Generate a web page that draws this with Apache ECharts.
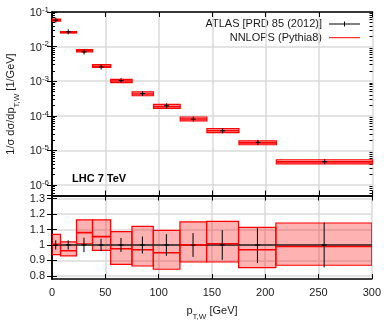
<!DOCTYPE html>
<html>
<head>
<meta charset="utf-8">
<script src="https://cdn.jsdelivr.net/npm/echarts@6/dist/echarts.min.js"></script>
<style>html,body{margin:0;padding:0;background:#fff;}#c{width:384px;height:321px;}</style>
</head>
<body>
<div id="c"></div>
<script>
// ---- data ----
const binEdges = [0, 8, 23, 38, 55, 75, 95, 120, 145, 175, 210, 300];
const atlasX = [3.5, 15.2, 30, 46, 64.7, 84.8, 107.3, 132.3, 159.7, 192.7, 255.3];
const atlasY = [0.0583, 0.0267, 0.0070, 0.00258, 0.001045, 4.40e-4, 1.95e-4, 8.07e-5, 3.69e-5, 1.71e-5, 4.72e-6];
const atlasRelErr = [0.03, 0.03, 0.047, 0.04, 0.045, 0.055, 0.07, 0.077, 0.096, 0.117, 0.145];
const nnlopsRatio = [1.005, 0.963, 1.08, 1.054, 0.976, 0.969, 0.95, 1.001, 1.008, 0.969, 0.99];
const nnlopsRatioUp = [1.069, 1.02, 1.163, 1.163, 1.087, 1.12, 1.095, 1.149, 1.153, 1.114, 1.142];
const nnlopsRatioDown = [0.937, 0.93, 1.008, 0.965, 0.875, 0.864, 0.843, 0.89, 0.89, 0.854, 0.869];
const xTicks = [0, 50, 100, 150, 200, 250, 300];
const ratioTicks = [0.8, 0.9, 1, 1.1, 1.2, 1.3];
const legendLabels = ['ATLAS [PRD 85 (2012)]', 'NNLOPS (Pythia8)'];

const FONT = 'Liberation Sans, Arial, Helvetica, sans-serif';
const TXT = '#1a1a1a';
const RED = '#ff0000';

const logMin = 5e-7, logMax = 0.1;
const minorLogTicks = [];
for (let d = -7; d <= -2; d++) for (let k = 2; k <= 9; k++) {
  const v = k * Math.pow(10, d);
  if (v > logMin && v < logMax) minorLogTicks.push(v);
}

// build series data
const bandTop = [], bandRatio = [], ptsTop = [], ptsRatio = [];
for (let i = 0; i < atlasY.length; i++) {
  const a = atlasY[i];
  bandTop.push([binEdges[i], binEdges[i + 1], a * nnlopsRatioDown[i], a * nnlopsRatioUp[i], a * nnlopsRatio[i]]);
  bandRatio.push([binEdges[i], binEdges[i + 1], nnlopsRatioDown[i], nnlopsRatioUp[i], nnlopsRatio[i]]);
  ptsTop.push([atlasX[i], a, a * (1 - atlasRelErr[i]), a * (1 + atlasRelErr[i])]);
  ptsRatio.push([atlasX[i], 1, 1 - atlasRelErr[i], 1 + atlasRelErr[i]]);
}
const unityLine = binEdges.map(e => [e, 1]);

function bandRender(params, api) {
  const x0 = api.value(0), x1 = api.value(1), lo = api.value(2), hi = api.value(3);
  const p0 = api.coord([x0, hi]), p1 = api.coord([x1, lo]);
  return {
    type: 'rect',
    shape: { x: p0[0], y: p0[1], width: p1[0] - p0[0], height: p1[1] - p0[1] },
    style: { fill: 'rgba(255,0,0,0.3)', stroke: RED, lineWidth: 1.2 }
  };
}
function centralRender(params, api) {
  const x0 = api.value(0), x1 = api.value(1), c = api.value(4);
  const p0 = api.coord([x0, c]), p1 = api.coord([x1, c]);
  return {
    type: 'line',
    shape: { x1: p0[0], y1: p0[1], x2: p1[0], y2: p1[1] },
    style: { stroke: RED, lineWidth: 1.6 }
  };
}
function errRender(params, api) {
  const x = api.value(0), y = api.value(1), lo = api.value(2), hi = api.value(3);
  const p = api.coord([x, y]), pl = api.coord([x, lo]), ph = api.coord([x, hi]);
  const s = 2.5;
  return {
    type: 'group',
    children: [
      { type: 'line', shape: { x1: p[0], y1: Math.min(ph[1], p[1] - s), x2: p[0], y2: Math.max(pl[1], p[1] + s) }, style: { stroke: '#000', lineWidth: 1 } },
      { type: 'line', shape: { x1: p[0] - s, y1: p[1], x2: p[0] + s, y2: p[1] }, style: { stroke: '#000', lineWidth: 1 } }
    ]
  };
}

const gridLine = { show: true, lineStyle: { color: '#dadada', width: 1.5 } };
const axLine = { show: true, lineStyle: { color: '#000', width: 1.5 } };

function supLabel(v) {
  const e = Math.round(Math.log10(v));
  if (Math.abs(Math.log10(v) - e) > 1e-6) return '';
  return '{b|10}{s|' + e + '}';
}

const option = {
  animation: false,
  backgroundColor: '#fff',
  textStyle: { fontFamily: FONT },
  grid: [
    { left: 52, right: 11.5, top: 12, height: 183.5 },
    { left: 52, right: 11.5, top: 195.5, height: 83.5 }
  ],
  xAxis: [
    { gridIndex: 0, type: 'value', min: 0, max: 300, position: 'bottom',
      axisLine: axLine, axisTick: { inside: true, length: 5, lineStyle: { color: '#000' }, customValues: xTicks },
      axisLabel: { show: false, customValues: xTicks }, splitLine: gridLine },
    { gridIndex: 0, type: 'value', min: 0, max: 300, position: 'top',
      axisLine: axLine, axisTick: { inside: true, length: 5, lineStyle: { color: '#000' }, customValues: xTicks },
      axisLabel: { show: false }, splitLine: { show: false } },
    { gridIndex: 1, type: 'value', min: 0, max: 300, position: 'bottom',
      axisLine: axLine, axisTick: { inside: true, length: 5, lineStyle: { color: '#000' }, customValues: xTicks },
      axisLabel: { show: true, customValues: xTicks, color: TXT, fontSize: 11, fontFamily: FONT, margin: 8 },
      splitLine: gridLine },
    { gridIndex: 1, type: 'value', min: 0, max: 300, position: 'top',
      axisLine: axLine, axisTick: { inside: true, length: 5, lineStyle: { color: '#000' }, customValues: xTicks },
      axisLabel: { show: false }, splitLine: { show: false } }
  ],
  yAxis: [
    { gridIndex: 0, type: 'log', logBase: 10, min: logMin, max: logMax, position: 'left',
      axisLine: axLine, axisTick: { inside: true, length: 5, lineStyle: { color: '#000' } },
      axisLabel: { margin: 3, formatter: supLabel, showMinLabel: false,
        rich: { b: { fontSize: 11, fontFamily: FONT, color: TXT, lineHeight: 13, verticalAlign: 'bottom' },
                s: { fontSize: 8, fontFamily: FONT, color: TXT, lineHeight: 9, verticalAlign: 'top' } } },
      splitLine: gridLine },
    { gridIndex: 0, type: 'log', logBase: 10, min: logMin, max: logMax, position: 'right',
      axisLine: axLine, axisTick: { inside: true, length: 5, lineStyle: { color: '#000' } },
      axisLabel: { show: false }, splitLine: { show: false } },
    { gridIndex: 0, type: 'log', logBase: 10, min: logMin, max: logMax, position: 'left',
      axisLine: { show: false }, axisTick: { inside: true, length: 3, lineStyle: { color: '#000' }, customValues: minorLogTicks },
      axisLabel: { show: false }, splitLine: { show: false } },
    { gridIndex: 0, type: 'log', logBase: 10, min: logMin, max: logMax, position: 'right',
      axisLine: { show: false }, axisTick: { inside: true, length: 3, lineStyle: { color: '#000' }, customValues: minorLogTicks },
      axisLabel: { show: false }, splitLine: { show: false } },
    { gridIndex: 1, type: 'value', min: 0.78, max: 1.32, position: 'left',
      axisLine: axLine, axisTick: { inside: true, length: 5, lineStyle: { color: '#000' }, customValues: ratioTicks },
      axisLabel: { customValues: ratioTicks, color: TXT, fontSize: 11, fontFamily: FONT, margin: 7 },
      splitLine: gridLine },
    { gridIndex: 1, type: 'value', min: 0.78, max: 1.32, position: 'right',
      axisLine: axLine, axisTick: { inside: true, length: 5, lineStyle: { color: '#000' }, customValues: ratioTicks },
      axisLabel: { show: false }, splitLine: { show: false } }
  ],
  series: [
    { type: 'custom', name: legendLabels[1], xAxisIndex: 0, yAxisIndex: 0, renderItem: bandRender, data: bandTop,
      encode: { x: [0, 1], y: [2, 3, 4] }, clip: true, z: 2 },
    { type: 'custom', xAxisIndex: 0, yAxisIndex: 0, renderItem: centralRender, data: bandTop,
      encode: { x: [0, 1], y: [2, 3, 4] }, clip: true, z: 4 },
    { type: 'custom', name: legendLabels[0], xAxisIndex: 0, yAxisIndex: 0, renderItem: errRender, data: ptsTop,
      encode: { x: 0, y: [1, 2, 3] }, clip: true, z: 5 },
    { type: 'custom', xAxisIndex: 2, yAxisIndex: 4, renderItem: bandRender, data: bandRatio,
      encode: { x: [0, 1], y: [2, 3, 4] }, clip: true, z: 2 },
    { type: 'line', xAxisIndex: 2, yAxisIndex: 4, data: unityLine, symbol: 'none',
      lineStyle: { color: '#222', width: 1.5 }, z: 3 },
    { type: 'custom', xAxisIndex: 2, yAxisIndex: 4, renderItem: centralRender, data: bandRatio,
      encode: { x: [0, 1], y: [2, 3, 4] }, clip: true, z: 4 },
    { type: 'custom', xAxisIndex: 2, yAxisIndex: 4, renderItem: errRender, data: ptsRatio,
      encode: { x: 0, y: [1, 2, 3] }, clip: true, z: 5 }
  ],
  graphic: [
    { type: 'text', left: null, x: 322, y: 24, style: { text: legendLabels[0], font: '11px ' + FONT, fill: TXT, textAlign: 'right', textVerticalAlign: 'middle' } },
    { type: 'line', shape: { x1: 329, y1: 24, x2: 360, y2: 24 }, style: { stroke: '#000', lineWidth: 1 } },
    { type: 'line', shape: { x1: 344.5, y1: 21.5, x2: 344.5, y2: 26.5 }, style: { stroke: '#000', lineWidth: 1 } },
    { type: 'text', x: 322, y: 37.7, style: { text: legendLabels[1], font: '11px ' + FONT, fill: TXT, textAlign: 'right', textVerticalAlign: 'middle' } },
    { type: 'line', shape: { x1: 329, y1: 37.7, x2: 360, y2: 37.7 }, style: { stroke: RED, lineWidth: 1 } },
    { type: 'text', x: 72, y: 179, style: { text: 'LHC 7 TeV', font: 'bold 11px ' + FONT, fill: '#000', textAlign: 'left', textVerticalAlign: 'middle' } },
    { type: 'text', x: 13, y: 104, rotation: Math.PI / 2,
      style: { text: '{m|1/σ dσ/dp}{u|T,W}{m| [1/GeV]}', textAlign: 'center', textVerticalAlign: 'middle',
        rich: { m: { fontSize: 11, fontFamily: FONT, fill: TXT, lineHeight: 13, verticalAlign: 'top' },
                u: { fontSize: 8, fontFamily: FONT, fill: TXT, lineHeight: 15, verticalAlign: 'bottom' } } } },
    { type: 'text', x: 212, y: 313,
      style: { text: '{m|p}{u|T,W}{m| [GeV]}', textAlign: 'center', textVerticalAlign: 'middle',
        rich: { m: { fontSize: 11, fontFamily: FONT, fill: TXT, lineHeight: 13, verticalAlign: 'top' },
                u: { fontSize: 8, fontFamily: FONT, fill: TXT, lineHeight: 15, verticalAlign: 'bottom' } } } }
  ]
};

const chart = echarts.init(document.getElementById('c'), null, { renderer: 'canvas' });
chart.setOption(option);
</script>
</body>
</html>
